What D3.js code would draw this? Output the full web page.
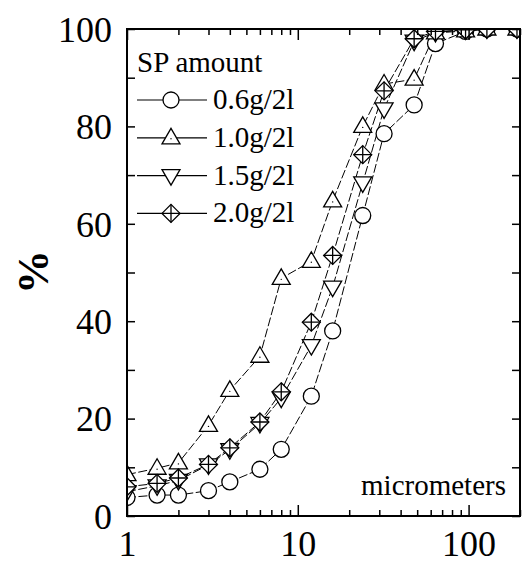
<!DOCTYPE html>
<html>
<head>
<meta charset="utf-8">
<script src="https://cdn.jsdelivr.net/npm/d3@7"></script>
<style>
  html, body { margin: 0; padding: 0; background: #fff; }
  svg text { font-family: "Liberation Serif", "Times New Roman", Times, serif; fill: #000; }
</style>
</head>
<body>
<svg id="chart" width="524" height="565"></svg>
<script>
"use strict";

// particle size (micrometers) and cumulative percent for each SP amount
let sizes = [1, 1.5, 2, 3, 4, 6, 8, 12, 16, 24, 32, 48, 64, 96, 128, 192];
let sp06 = [3.8, 4.3, 4.3, 5.2, 7, 9.6, 13.7, 24.6, 38, 61.7, 78.5, 84.4, 97, 99.5, 100, 100];
let sp10 = [8.5, 9.8, 10.9, 18.6, 25.8, 32.8, 48.8, 52.3, 64.7, 80, 88.7, 89.7, 99.2, 99.6, 100, 100];
let sp15 = [5, 6.2, 7.3, 10.5, 13.6, 19, 24.2, 35, 47, 68.4, 83.6, 97.5, 99.3, 99.8, 100, 100];
let sp20 = [6, 6.7, 7.8, 10.6, 14, 19.3, 25.5, 39.8, 53.5, 74.2, 87.3, 98, 99.5, 99.8, 100, 100];

let seriesNames = ["0.6g/2l", "1.0g/2l", "1.5g/2l", "2.0g/2l"];
let seriesShapes = ["circle", "up", "down", "diamond"];
let seriesValues = [sp06, sp10, sp15, sp20];

let yTicks = [0, 10, 20, 30, 40, 50, 60, 70, 80, 90, 100];
let yLabels = [0, 20, 40, 60, 80, 100];
let xMajor = [1, 10, 100];
let xMinor = [2, 3, 4, 5, 6, 7, 8, 9, 20, 30, 40, 50, 60, 70, 80, 90, 200];

const FONT = "'Liberation Serif', 'Times New Roman', Times, serif";

let svg = d3.select("#chart");
let pLeft = 127, pRight = 520, pTop = 29, pBottom = 516;

let x = d3.scaleLog().domain([1, 200]).range([pLeft, pRight]);
let y = d3.scaleLinear().domain([0, 100]).range([pBottom, pTop]);

svg.append("defs").append("clipPath").attr("id", "plotclip")
  .append("rect")
  .attr("x", pLeft).attr("y", pTop)
  .attr("width", pRight - pLeft).attr("height", pBottom - pTop);

// marker drawing
function drawMarker(g, shape) {
  let m;
  if (shape === "circle") {
    m = g.append("circle").attr("r", 8);
  } else if (shape === "up") {
    m = g.append("path").attr("d", "M0,-9.5L9,6L-9,6Z");
  } else if (shape === "down") {
    m = g.append("path").attr("d", "M0,9.5L9,-6L-9,-6Z");
  } else {
    m = g.append("path").attr("d", "M0,-9L9,0L0,9L-9,0Z");
  }
  m.attr("fill", "#fff").attr("stroke", "#000").attr("stroke-width", 1.3);
  if (shape === "diamond") {
    g.append("path").attr("d", "M0,-9V9M-9,0H9")
      .attr("stroke", "#000").attr("stroke-width", 1.3);
  }
  if (shape === "up") {
    g.append("circle").attr("r", 0.7).attr("cy", 1).attr("fill", "#000");
  }
}

// series
let plot = svg.append("g").attr("clip-path", "url(#plotclip)");
let line = d3.line().x(d => x(d[0])).y(d => y(d[1]));

seriesValues.forEach((vals) => {
  let pts = sizes.map((s, j) => [s, vals[j]]);
  plot.append("path")
    .attr("d", line(pts))
    .attr("fill", "none")
    .attr("stroke", "#000")
    .attr("stroke-width", 1)
    .attr("stroke-dasharray", "9,2.5");
});
seriesValues.forEach((vals, i) => {
  sizes.forEach((s, j) => {
    let g = plot.append("g").attr("transform", `translate(${x(s)},${y(vals[j])})`);
    drawMarker(g, seriesShapes[i]);
  });
});

// axes (ticks point inward)
function clean(g) {
  g.attr("font-family", FONT);
  g.select(".domain").remove();
  g.selectAll(".tick line").attr("stroke", "#000").attr("stroke-width", 1.5);
}

svg.append("g")
  .attr("transform", `translate(${pLeft},0)`)
  .call(d3.axisLeft(y).tickValues(yTicks).tickSize(-8).tickPadding(15)
    .tickFormat(d => yLabels.includes(d) ? d : ""))
  .call(clean)
  .selectAll("text").style("font-size", "36px").attr("dy", "0.34em");

svg.append("g")
  .attr("transform", `translate(${pRight},0)`)
  .call(d3.axisRight(y).tickValues(yTicks).tickSize(-8).tickFormat(""))
  .call(clean);

svg.append("g")
  .attr("transform", `translate(0,${pBottom})`)
  .call(d3.axisBottom(x).tickValues(xMajor).tickSize(-11).tickPadding(14).tickFormat(d => d))
  .call(clean)
  .selectAll("text").style("font-size", "36px");

svg.append("g")
  .attr("transform", `translate(0,${pBottom})`)
  .call(d3.axisBottom(x).tickValues(xMinor).tickSize(-6).tickFormat(""))
  .call(clean);

svg.append("g")
  .attr("transform", `translate(0,${pTop})`)
  .call(d3.axisTop(x).tickValues(xMajor).tickSize(-11).tickFormat(""))
  .call(clean);

svg.append("g")
  .attr("transform", `translate(0,${pTop})`)
  .call(d3.axisTop(x).tickValues(xMinor).tickSize(-6).tickFormat(""))
  .call(clean);

// frame
svg.append("rect")
  .attr("x", pLeft).attr("y", pTop)
  .attr("width", pRight - pLeft).attr("height", pBottom - pTop)
  .attr("fill", "none").attr("stroke", "#000").attr("stroke-width", 2);

// axis titles
svg.append("text")
  .attr("transform", "translate(48,272) rotate(-90)")
  .attr("text-anchor", "middle")
  .attr("font-family", FONT)
  .style("font-size", "44px")
  .style("font-weight", "bold")
  .text("%");

svg.append("text")
  .attr("x", 506).attr("y", 495)
  .attr("text-anchor", "end")
  .attr("font-family", FONT)
  .style("font-size", "29px")
  .text("micrometers");

// legend
svg.append("text")
  .attr("x", 137).attr("y", 72)
  .attr("font-family", FONT)
  .style("font-size", "29px")
  .text("SP amount");

seriesNames.forEach((name, i) => {
  let ry = 100 + i * 37.8;
  let g = svg.append("g").attr("transform", `translate(0,${ry})`);
  g.append("line")
    .attr("x1", 137).attr("x2", 207)
    .attr("stroke", "#000").attr("stroke-width", 1.2);
  let mg = g.append("g").attr("transform", "translate(171,0)");
  drawMarker(mg, seriesShapes[i]);
  g.append("text")
    .attr("x", 213).attr("y", 9)
    .attr("font-family", FONT)
    .style("font-size", "29px")
    .text(name);
});
</script>
</body>
</html>
